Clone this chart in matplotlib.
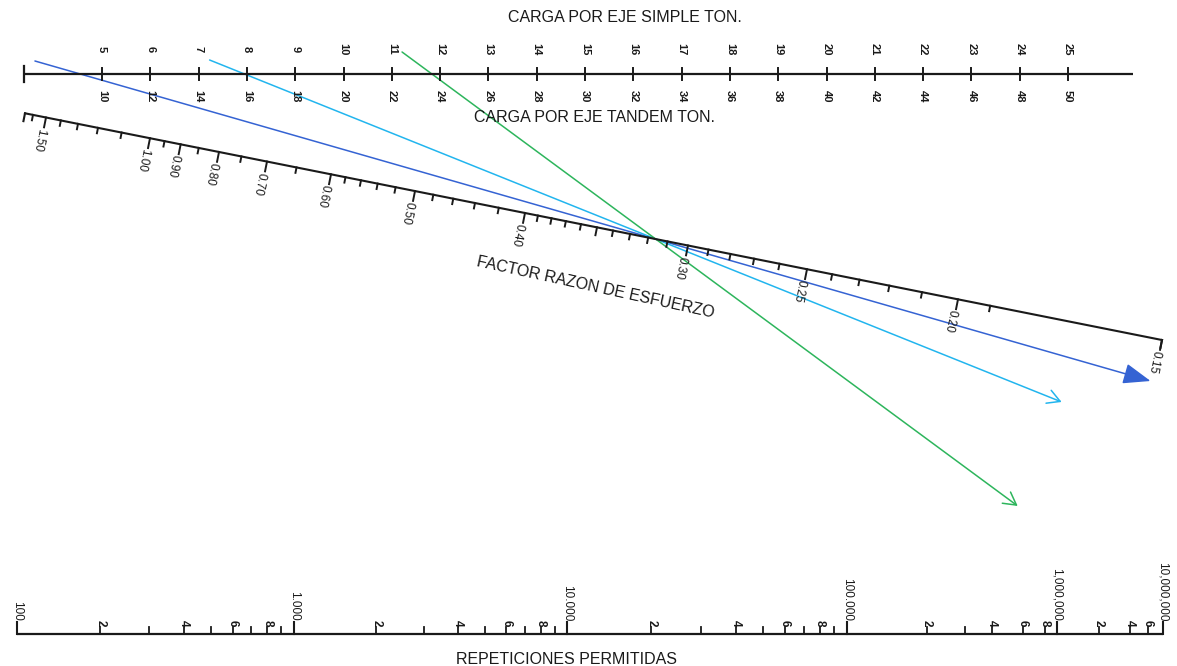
import numpy as np
import matplotlib
matplotlib.use("Agg")
import matplotlib.pyplot as plt
from matplotlib.patches import FancyArrowPatch

plt.rcParams['font.family'] = ['Liberation Sans', 'DejaVu Sans']

# --- top scale: single axle load (ton) / tandem axle load (ton)
SIMPLE_TICKS = list(range(5, 26))
TANDEM_TICKS = [2 * t for t in SIMPLE_TICKS]

# --- diagonal scale: stress ratio factor
SR_LABELED = [1.50, 1.00, 0.90, 0.80, 0.70, 0.60, 0.50, 0.40, 0.30, 0.25, 0.20, 0.15]
SR_LABELS = ["1.50", "1.00", "0.90", "0.80", "0.70", "0.60", "0.50", "0.40",
             "0.30", "0.25", "0.20", "0.15"]
SR_MINOR = [1.6, 1.4, 1.3, 1.2, 1.1, 0.95, 0.85, 0.75, 0.65,
            0.58, 0.56, 0.54, 0.52, 0.48, 0.46, 0.44, 0.42,
            0.39, 0.38, 0.37, 0.36, 0.35, 0.34, 0.33, 0.32, 0.31,
            0.29, 0.28, 0.27, 0.26, 0.24, 0.23, 0.22, 0.21, 0.19]
# scale calibration of the (non uniform) stress ratio scale
SR_CAL_VALUES = [1.5, 1.0, 0.8, 0.6, 0.5, 0.4, 0.35, 0.3, 0.25, 0.2, 0.15]
SR_CAL_POS = [46, 150, 219, 331, 415, 525, 597, 688, 807, 958, 1162]

# --- bottom scale: allowed repetitions
REP_MAJOR = [1e2, 1e3, 1e4, 1e5, 1e6, 1e7]
REP_MAJOR_LABELS = ["100", "1.000", "10.000", "100.000", "1,000,000", "10,000,000"]
REP_MINOR_MULT = {1e2: [2, 3, 4, 5, 6, 7, 8, 9],
                  1e3: [2, 3, 4, 5, 6, 7, 8, 9],
                  1e4: [2, 3, 4, 5, 6, 7, 8, 9],
                  1e5: [2, 3, 4, 6, 8],
                  1e6: [2, 4, 6]}
REP_LABELED_MULT = [2, 4, 6, 8]
# scale calibration of the repetitions scale (log, compressed at the end)
REP_CAL_VALUES = [1e2, 1e3, 1e4, 1e5, 2e5, 3e5, 4e5, 6e5, 8e5, 1e6, 2e6, 4e6, 6e6, 1e7]
REP_CAL_POS = [17, 294, 567, 847, 927, 965, 992, 1023, 1045, 1057, 1099, 1130, 1148, 1163]

# --- example lines: load on top scale, all through one stress ratio
ARROW_LOAD_SIMPLE = [4.55, 7.95, 11.83]
SR_PIVOT = 0.316
ARROW_COLORS = ["#3563D3", "#22B5EE", "#2DB55C"]
ARROW_Y = [(61, 381), (60, 402), (52, 506)]
ARROW_STYLES = ["-|>,head_length=0.85,head_width=0.32",
                "->,head_length=0.45,head_width=0.25",
                "->,head_length=0.45,head_width=0.25"]

W, H = 1177, 666
fig = plt.figure(figsize=(W / 100, H / 100), dpi=100)
ax = fig.add_axes([0, 0, 1, 1])
ax.set_xlim(0, W)
ax.set_ylim(H, 0)
ax.axis('off')

# layout of the scales
TOP_Y = 74
TOP_X5, TOP_PX_PER_TON = 102, 48.3
SR_X0, SR_Y0, SR_SLOPE = 25, 113.3, 0.1994
SR_X1 = 1162
BOT_Y = 634


def simple_x(t):
    return TOP_X5 + (t - 5) * TOP_PX_PER_TON


def sr_x(v):
    inv = 1.0 / np.asarray(SR_CAL_VALUES)
    if 1.0 / v < inv[0]:
        # extrapolate beyond the first calibration point
        return SR_CAL_POS[0] + (1.0 / v - inv[0]) * (SR_CAL_POS[1] - SR_CAL_POS[0]) / (inv[1] - inv[0])
    return np.interp(1.0 / v, inv, SR_CAL_POS)


def sr_y(x):
    return SR_Y0 + SR_SLOPE * (x - SR_X0)


def rep_x(n):
    return np.interp(np.log10(n), np.log10(REP_CAL_VALUES), REP_CAL_POS)


black = "#1a1a1a"

# ---------------- top scale
ax.plot([23.5, 1133], [TOP_Y, TOP_Y], color=black, lw=1.6, solid_capstyle='butt')
ax.plot([23.5, 23.5], [66, 82], color=black, lw=1.6)
for s, t in zip(SIMPLE_TICKS, TANDEM_TICKS):
    x = simple_x(s)
    ax.plot([x, x], [68, 80], color=black, lw=1.4)
    ax.text(x, 49, str(s), rotation=-90, ha='center', va='center',
            fontsize=8, fontweight='bold', color=black)
    ax.text(x, 96, str(t), rotation=-90, ha='center', va='center',
            fontsize=8, fontweight='bold', color=black)
ax.text(625, 18, "CARGA POR EJE SIMPLE TON.", ha='center', va='center',
        fontsize=11.5, color=black)
ax.text(594, 118, "CARGA POR EJE TANDEM TON.", ha='center', va='center',
        fontsize=11.5, color=black)

# ---------------- diagonal stress ratio scale
norm = np.hypot(1, SR_SLOPE)
u = np.array([1, SR_SLOPE]) / norm
n = np.array([-SR_SLOPE, 1]) / norm
ax.plot([SR_X0, SR_X1], [sr_y(SR_X0), sr_y(SR_X1)], color=black, lw=1.5)
for xe in (SR_X0, SR_X1):
    p = np.array([xe, sr_y(xe)])
    q = p + 8 * n
    ax.plot([p[0], q[0]], [p[1], q[1]], color=black, lw=1.5)


def sr_tick(v, length):
    x = sr_x(v)
    p = np.array([x, sr_y(x)])
    q = p + length * n
    ax.plot([p[0], q[0]], [p[1], q[1]], color=black, lw=1.4)
    return p


for v in SR_MINOR:
    sr_tick(v, 8 if v == 0.35 else 5.5)
ang = -np.degrees(np.arctan(SR_SLOPE))
for v, lab in zip(SR_LABELED, SR_LABELS):
    p = sr_tick(v, 10)
    c = p + 23 * n - 3 * u
    ax.text(c[0], c[1], lab, rotation=ang - 90, ha='center', va='center',
            fontsize=8.5, color=black)
ax.text(595, 287, "FACTOR RAZON DE ESFUERZO", rotation=-12.3,
        ha='center', va='center', fontsize=11.5, color=black)

# ---------------- bottom repetitions scale
ax.plot([rep_x(REP_MAJOR[0]), rep_x(REP_MAJOR[-1])], [BOT_Y, BOT_Y],
        color=black, lw=1.6, solid_capstyle='butt')
for val, lab in zip(REP_MAJOR, REP_MAJOR_LABELS):
    x = rep_x(val)
    ax.plot([x, x], [BOT_Y, BOT_Y - 12], color=black, lw=1.5)
    ax.text(x, BOT_Y - 13, lab, rotation=-90, ha='center', va='bottom',
            fontsize=8.5, color=black)
for dec, mults in REP_MINOR_MULT.items():
    for m in mults:
        x = rep_x(dec * m)
        ax.plot([x, x], [BOT_Y, BOT_Y - 7], color=black, lw=1.3)
        if m in REP_LABELED_MULT:
            ax.text(x, BOT_Y - 8, str(m), rotation=-90, ha='center', va='bottom',
                    fontsize=8.5, fontweight='bold', color=black)
ax.text(566, 659, "REPETICIONES PERMITIDAS", ha='center', va='center',
        fontsize=11.5, color=black)

# ---------------- example lines through the pivot
px = sr_x(SR_PIVOT)
py = sr_y(px)
for load, col, (y0, y1), sty in zip(ARROW_LOAD_SIMPLE, ARROW_COLORS, ARROW_Y, ARROW_STYLES):
    lx = simple_x(load)
    k = (px - lx) / (py - TOP_Y)
    xa = lx + k * (y0 - TOP_Y)
    xb = lx + k * (y1 - TOP_Y)
    arr = FancyArrowPatch((xa, y0), (xb, y1), arrowstyle=sty, mutation_scale=20,
                          color=col, lw=1.1, shrinkA=0, shrinkB=0)
    ax.add_patch(arr)

fig.savefig("out.png", dpi=100)
